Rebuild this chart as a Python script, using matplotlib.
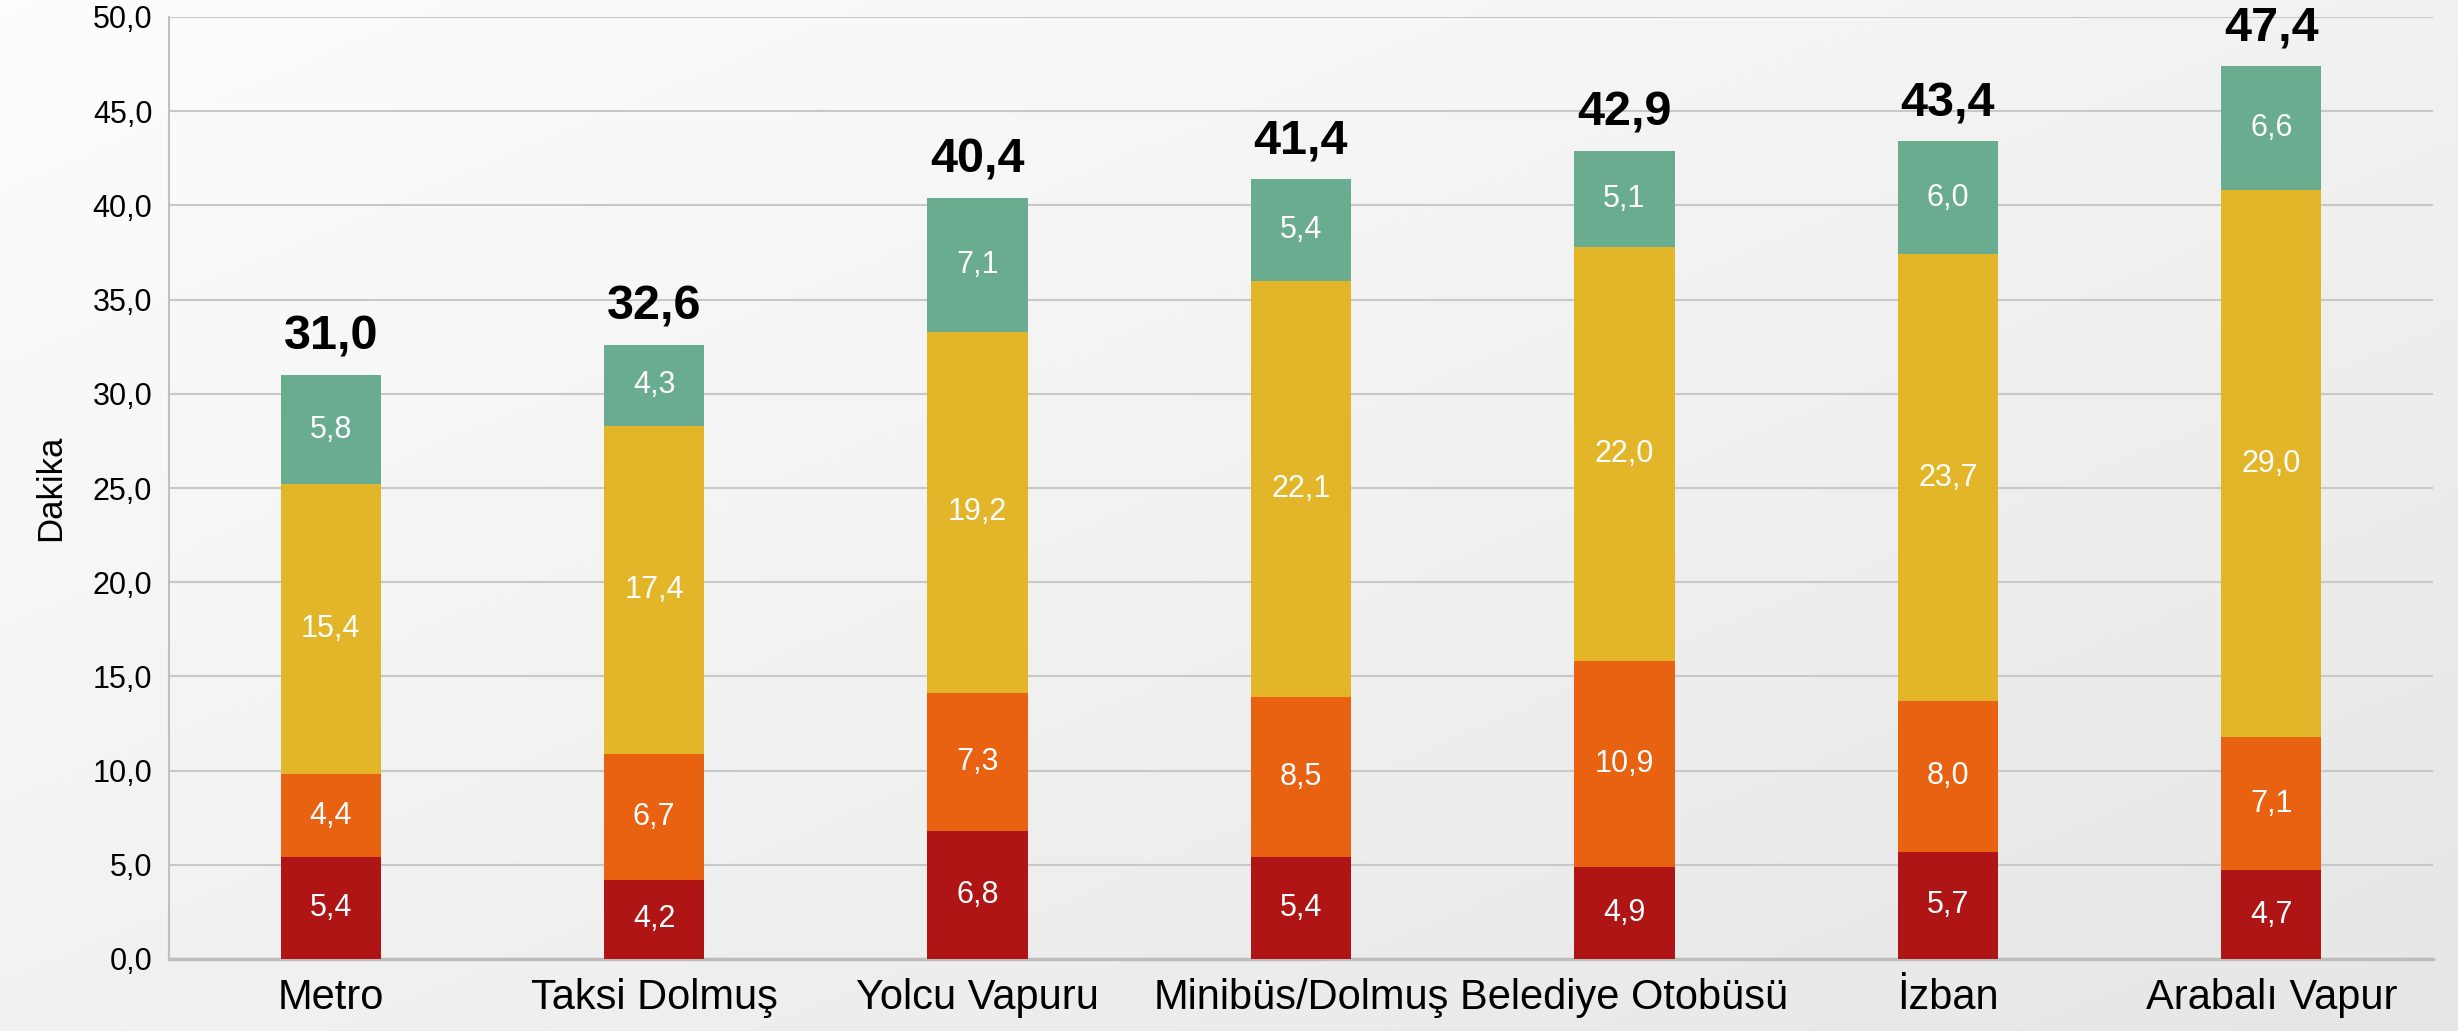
import numpy as np
import matplotlib
matplotlib.use("Agg")
import matplotlib.pyplot as plt

plt.rcParams['font.family'] = ['Liberation Sans', 'DejaVu Sans']

categories = ['Metro', 'Taksi Dolmuş', 'Yolcu Vapuru', 'Minibüs/Dolmuş',
              'Belediye Otobüsü', 'İzban', 'Arabalı Vapur']
seg1 = [5.4, 4.2, 6.8, 5.4, 4.9, 5.7, 4.7]
seg2 = [4.4, 6.7, 7.3, 8.5, 10.9, 8.0, 7.1]
seg3 = [15.4, 17.4, 19.2, 22.1, 22.0, 23.7, 29.0]
seg4 = [5.8, 4.3, 7.1, 5.4, 5.1, 6.0, 6.6]
totals = [31.0, 32.6, 40.4, 41.4, 42.9, 43.4, 47.4]

colors = ['#B01515', '#E86212', '#E3B62A', '#6AAC8F']

fig = plt.figure(figsize=(24.58, 10.31), dpi=100)

# soft diagonal background
bg = fig.add_axes([0, 0, 1, 1], zorder=-10)
yy, xx = np.mgrid[0:1:200j, 0:1:400j]
grad = 0.5 * xx + 0.5 * yy
bg.imshow(grad, cmap=matplotlib.colors.LinearSegmentedColormap.from_list(
    'bg', ['#FDFDFD', '#E6E6E6']), aspect='auto', extent=[0, 1, 0, 1], origin='upper')
bg.axis('off')

ax = fig.add_axes([169 / 2458, 1 - 959 / 1031, (2433 - 169) / 2458, (959 - 17) / 1031])
ax.patch.set_alpha(0)

x = np.arange(len(categories))
w = 0.31
bottom = np.zeros(len(categories))
for vals, c in zip([seg1, seg2, seg3, seg4], colors):
    vals = np.array(vals)
    ax.bar(x, vals, w, bottom=bottom, color=c, zorder=3)
    for xi, b, v in zip(x, bottom, vals):
        ax.text(xi, b + v / 2, f'{v:.1f}'.replace('.', ','), ha='center', va='center',
                color='white', fontsize=22, zorder=4)
    bottom += vals

for xi, t in zip(x, totals):
    ax.annotate(f'{t:.1f}'.replace('.', ','), (xi, t), xytext=(0, 11),
                textcoords='offset points', ha='center', va='bottom',
                fontsize=35, fontweight='bold', color='black')

ax.set_xlim(-0.5, len(categories) - 0.5)
ax.set_ylim(0, 50)
ax.set_yticks(np.arange(0, 51, 5))
ax.set_yticklabels([f'{v:.1f}'.replace('.', ',') for v in np.arange(0, 51, 5)])
ax.set_xticks(x)
ax.set_xticklabels(categories)
ax.tick_params(axis='y', length=0, labelsize=22, pad=12)
ax.tick_params(axis='x', length=0, labelsize=30, pad=14)
ax.grid(axis='y', color='#C8C8C8', linewidth=1.5, zorder=0)
ax.set_axisbelow(True)
for s in ['top', 'right']:
    ax.spines[s].set_visible(False)
ax.spines['left'].set_color('#C0C0C0')
ax.spines['left'].set_linewidth(1.5)
ax.spines['bottom'].set_color('#BDBDBD')
ax.spines['bottom'].set_linewidth(2.5)
ax.set_ylabel('Dakika', fontsize=25, labelpad=18)

fig.savefig('out.png', dpi=100)
